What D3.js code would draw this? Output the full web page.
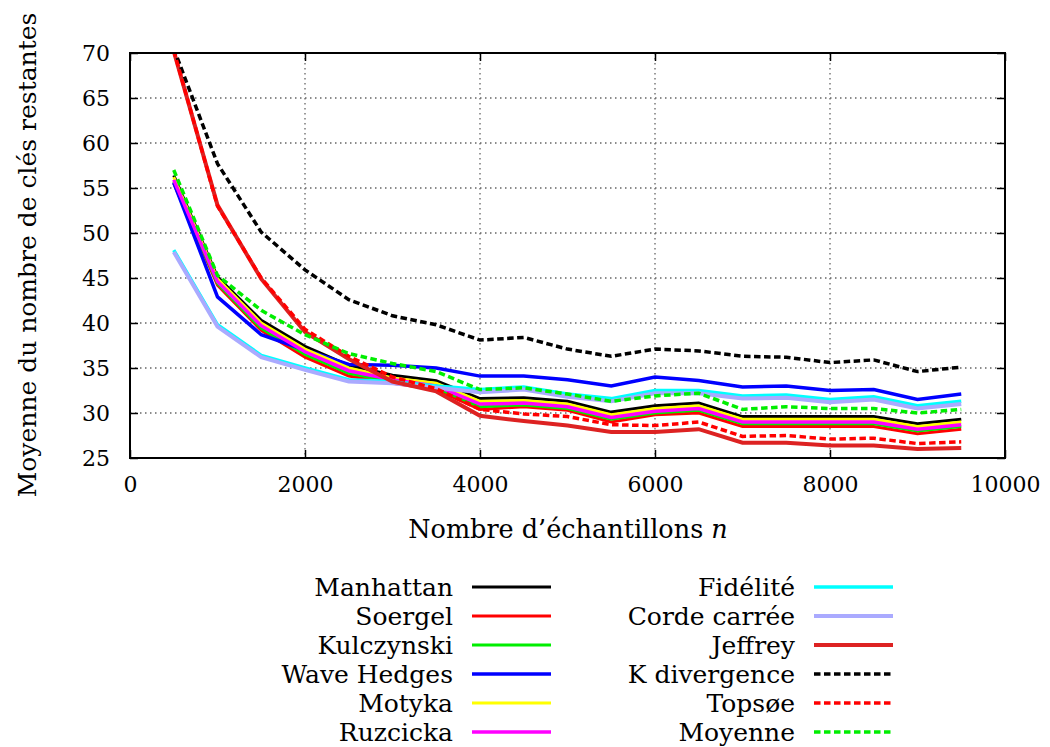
<!DOCTYPE html>
<html><head><meta charset="utf-8">
<script src="https://cdn.jsdelivr.net/npm/d3@7"></script>
<style>body{margin:0;background:#fff}svg{display:block}text{font-family:"DejaVu Serif",serif;fill:#000}</style>
</head><body>
<svg id="c" width="1050" height="747"></svg>
<script>
const samples = [500,1000,1500,2000,2500,3000,3500,4000,4500,5000,5500,6000,6500,7000,7500,8000,8500,9000,9500];
const xTicks = [0,2000,4000,6000,8000,10000];
const yTicks = [25,30,35,40,45,50,55,60,65,70];

const manhattan  = [56.4,45.1,40.3,37.4,35.3,34.2,33.6,31.6,31.7,31.3,30.1,30.8,31.1,29.6,29.6,29.6,29.6,28.8,29.3];
const soergel    = [55.5,44.2,39.2,36.2,34.1,33.3,32.6,30.4,30.7,30.3,29.0,29.8,30.0,28.5,28.5,28.5,28.5,27.7,28.2];
const kulczynski = [55.7,44.4,39.4,36.5,34.4,33.5,32.8,30.7,30.9,30.5,29.3,30.0,30.3,28.8,28.8,28.8,28.8,28.0,28.5];
const waveHedges = [55.6,42.9,38.7,37.0,35.4,35.3,35.0,34.1,34.1,33.7,33.0,34.0,33.6,32.9,33.0,32.5,32.6,31.5,32.1];
const motyka     = [56.2,44.9,40.0,37.1,35.0,33.9,33.3,31.3,31.4,31.0,29.8,30.5,30.8,29.3,29.3,29.3,29.3,28.5,29.0];
const ruzcicka   = [55.9,44.6,39.7,36.8,34.7,33.7,33.0,31.0,31.1,30.7,29.5,30.2,30.5,29.0,29.0,29.0,29.0,28.2,28.7];
const fidelite   = [48.1,39.8,36.4,35.0,33.7,33.5,33.0,32.6,32.9,32.1,31.6,32.5,32.5,31.9,32.0,31.5,31.8,30.8,31.3];
const corde      = [47.9,39.6,36.2,34.8,33.5,33.3,32.8,32.3,32.6,31.8,31.3,32.2,32.2,31.6,31.7,31.2,31.5,30.5,31.0];
const jeffrey    = [70.2,53.1,44.9,39.0,36.0,33.5,32.4,29.7,29.1,28.6,27.9,27.9,28.2,26.7,26.7,26.4,26.4,26.0,26.1];
const kdiv       = [70.5,57.7,50.1,45.9,42.6,40.8,39.8,38.1,38.4,37.1,36.3,37.1,36.9,36.3,36.2,35.6,35.9,34.6,35.1];
const topsoe     = [70.3,53.0,45.0,39.3,36.3,34.0,32.7,30.4,29.9,29.6,28.7,28.6,29.0,27.4,27.5,27.1,27.2,26.6,26.8];
const moyenne    = [57.0,45.3,41.4,38.7,36.6,35.5,34.6,32.6,32.8,32.1,31.3,31.9,32.2,30.4,30.7,30.5,30.5,30.0,30.4];

const seriesNames = ["Manhattan","Soergel","Kulczynski","Wave Hedges","Motyka","Ruzcicka","Fidélité","Corde carrée","Jeffrey","K divergence","Topsøe","Moyenne"];
const seriesValues = [manhattan,soergel,kulczynski,waveHedges,motyka,ruzcicka,fidelite,corde,jeffrey,kdiv,topsoe,moyenne];
const seriesColors = ["#000000","#ff0000","#00ee00","#0000ff","#ffff00","#ff00ff","#00ffff","#aaaaff","#dd2222","#000000","#ff0000","#00ee00"];
const seriesWidth = [3,3,3,3.5,3,3.5,3.5,4,4,3.5,3.5,3.5];
const seriesDash = [null,null,null,null,null,null,null,null,null,"6.5,3.5","6.5,3.5","6.5,3.5"];

const svg = d3.select("#c");
const L=130,R=1005,T=53,B=458;
const x = d3.scaleLinear().domain([0,10000]).range([L,R]);
const y = d3.scaleLinear().domain([25,70]).range([B,T]);

// grid
const g = svg.append("g");
g.selectAll(".gy").data(yTicks.filter(v=>v>25&&v<70)).join("line")
 .attr("x1",L).attr("x2",R).attr("y1",d=>y(d)).attr("y2",d=>y(d))
 .attr("stroke","#666").attr("stroke-width",1.3).attr("stroke-dasharray","1.5,3.5");
g.selectAll(".gx").data(xTicks.filter(v=>v>0&&v<10000)).join("line")
 .attr("y1",T).attr("y2",B).attr("x1",d=>x(d)).attr("x2",d=>x(d))
 .attr("stroke","#666").attr("stroke-width",1.3).attr("stroke-dasharray","1.5,3.5");

// axes with inward ticks
const axL = svg.append("g").attr("transform",`translate(${L},0)`)
 .call(d3.axisLeft(y).tickValues(yTicks).tickSize(-8).tickPadding(20).tickFormat(d3.format("d")));
const axR = svg.append("g").attr("transform",`translate(${R},0)`)
 .call(d3.axisRight(y).tickValues(yTicks).tickSize(-8).tickFormat(""));
const axB = svg.append("g").attr("transform",`translate(0,${B})`)
 .call(d3.axisBottom(x).tickValues(xTicks).tickSize(-8).tickPadding(18).tickFormat(d3.format("d")));
const axT = svg.append("g").attr("transform",`translate(0,${T})`)
 .call(d3.axisTop(x).tickValues(xTicks).tickSize(-8).tickFormat(""));
[axL,axR,axB,axT].forEach(a=>{
  a.select(".domain").remove();
  a.selectAll("line").attr("stroke","#000").attr("stroke-width",1.5);
  a.selectAll("text").style("font-family","DejaVu Serif").style("font-size","22px").attr("fill","#000");
});
axL.selectAll("text").attr("dy","0.35em");

// clip
svg.append("clipPath").attr("id","clip").append("rect").attr("x",L).attr("y",T).attr("width",R-L).attr("height",B-T);

const line = d3.line().x((d,i)=>x(samples[i])).y(d=>y(d));
const lg = svg.append("g").attr("clip-path","url(#clip)");
seriesValues.forEach((vals,k)=>{
  lg.append("path").datum(vals).attr("d",line).attr("fill","none")
    .attr("stroke",seriesColors[k]).attr("stroke-width",seriesWidth[k])
    .attr("stroke-dasharray",seriesDash[k]).attr("stroke-linejoin","miter");
});

// frame
svg.append("rect").attr("x",L).attr("y",T).attr("width",R-L).attr("height",B-T)
 .attr("fill","none").attr("stroke","#000").attr("stroke-width",2);

// axis titles
const xt = svg.append("text").attr("x",568).attr("y",538).attr("text-anchor","middle").style("font-size","25.5px");
xt.append("tspan").text("Nombre d’échantillons ");
xt.append("tspan").attr("font-style","italic").text("n");
svg.append("text").attr("transform","translate(36,255) rotate(-90)").attr("text-anchor","middle")
 .style("font-size","25px").text("Moyenne du nombre de clés restantes");

// legend
const leg = svg.append("g");
seriesNames.forEach((name,k)=>{
  const col = Math.floor(k/6), row = k%6;
  const ty = 587 + row*29;
  const tx = col===0 ? 453 : 795;
  const sx = col===0 ? 472 : 814;
  leg.append("text").attr("x",tx).attr("y",ty).attr("dy","0.35em").attr("text-anchor","end")
    .style("font-size","25px").text(name);
  leg.append("line").attr("x1",sx).attr("x2",sx+79).attr("y1",ty).attr("y2",ty)
    .attr("stroke",seriesColors[k]).attr("stroke-width",seriesWidth[k])
    .attr("stroke-dasharray",seriesDash[k]);
});
</script>
</body></html>
